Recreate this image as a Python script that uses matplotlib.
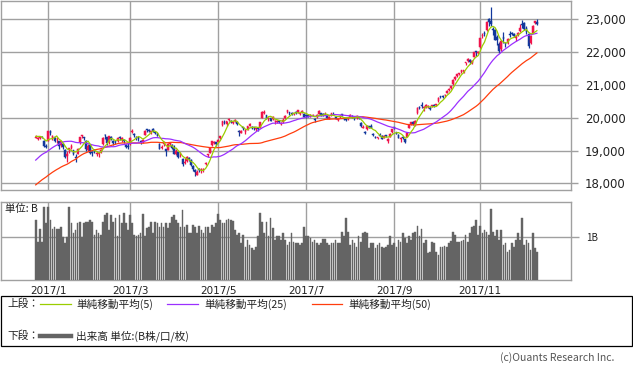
import numpy as np
import pandas as pd
import matplotlib
matplotlib.use("Agg")
import matplotlib.pyplot as plt
from matplotlib.patches import Rectangle
from matplotlib.lines import Line2D

# ---------------- data ----------------
month_labels = ["2016/12", "2017/1", "2017/2", "2017/3", "2017/4", "2017/5", "2017/6",
                "2017/7", "2017/8", "2017/9", "2017/10", "2017/11", "2017/12"]
month_days = [6, 19, 20, 22, 20, 20, 22, 20, 22, 20, 21, 20, 8]
tick_labels = ["2017/1", "2017/3", "2017/5", "2017/7", "2017/9", "2017/11"]

# closes before the first drawn day (used only for the moving averages)
prior_close = [16840, 16774, 16856, 16900, 16963, 16998, 17235, 17184, 17234, 17365, 17391, 17336, 17446, 17425,
               17442, 17134, 16905, 17177, 17171, 16251, 17344, 17374, 17672, 17668, 17862, 17862, 17967, 18106,
               18162, 18333, 18381, 18356, 18307, 18308,
               18513, 18426, 18274, 18360, 18496, 18765, 18996, 19155, 19250, 19253, 19273, 19401, 19391, 19494, 19444]

opens = [
    19390, 19360, 19370, 19420, 19300, 19150,
    19298, 19602, 19393, 19414, 19342, 19300, 19170, 19200, 19030, 18830, 19010, 19080, 19010, 18790, 18900, 19250, 19430, 19400, 19280,
    19020, 19170, 18950, 19010, 18880, 18890, 19000, 19200, 19480, 19400, 19250, 19420, 19280, 19260, 19290, 19410, 19320, 19310, 19180, 19140,
    19200, 19560, 19470, 19400, 19400, 19300, 19260, 19480, 19650, 19610, 19560, 19670, 19580, 19520, 19200, 19070, 19200, 19040, 19030, 19200, 19170, 19070,
    18900, 18950, 18850, 18740, 18630, 18690, 18760, 18720, 18530, 18410, 18250, 18430, 18380, 18420, 18590, 18860, 18920, 19180, 19240, 19260,
    19270, 19380, 19770, 19880, 19800, 19920, 19890, 19830, 19900, 19880, 19600, 19540, 19690, 19560, 19640, 19760, 19730, 19690, 19660, 19660,
    19700, 20000, 20140, 20070, 19950, 19980, 19960, 19890, 19880, 19900, 19820, 19860, 19990, 20190, 20150, 20160, 20120, 20170, 20170, 20120, 20180, 20110,
    20070, 20070, 20030, 20070, 19960, 20020, 20120, 20140, 20110, 20100, 20060, 19970, 20070, 20130, 20030, 19920, 20020, 20100, 20000, 19980,
    19960, 20030, 20050, 20000, 19990, 20000, 19850, 19700, 19550, 19650, 19740, 19760, 19480, 19410, 19380, 19480, 19450, 19380, 19450, 19290, 19420, 19570,
    19700, 19560, 19480, 19350, 19410, 19350, 19420, 19700, 19810, 19870, 19810, 20150, 20320, 20400, 20290, 20320, 20330, 20290, 20350, 20400,
    20380, 20500, 20640, 20660, 20680, 20770, 20850, 20900, 21030, 21180, 21260, 21350, 21400, 21400, 21660, 21720, 21770, 21680, 21850, 22020, 21980,
    22160, 22480, 22600, 22670, 23020, 22950, 22700, 22690, 22470, 22260, 22100, 22470, 22270, 22290, 22560, 22580, 22550, 22440, 22530, 22640,
    22860, 22880, 22750, 22570, 22280, 22600, 22890, 22920]

highs = [
    19480, 19420, 19440, 19450, 19310, 19190,
    19594, 19615, 19472, 19414, 19416, 19300, 19300, 19220, 19040, 19000, 19080, 19190, 19030, 18880, 19070, 19418, 19480, 19420, 19310,
    19190, 19190, 19000, 19060, 19000, 18960, 19050, 19400, 19500, 19420, 19450, 19450, 19320, 19290, 19400, 19440, 19410, 19340, 19200, 19220,
    19400, 19668, 19520, 19440, 19420, 19320, 19360, 19630, 19670, 19660, 19610, 19700, 19610, 19550, 19220, 19160, 19300, 19060, 19220, 19260, 19200, 19160,
    19040, 18960, 18950, 18780, 18760, 18840, 18800, 18730, 18560, 18450, 18400, 18470, 18470, 18460, 18650, 18880, 19090, 19300, 19290, 19270,
    19340, 19450, 19900, 19920, 19910, 19990, 19920, 19900, 19960, 19890, 19640, 19640, 19710, 19660, 19760, 19830, 19760, 19720, 19700, 19700,
    19880, 20200, 20240, 20080, 20020, 20000, 20050, 19940, 19930, 19930, 19870, 20000, 20090, 20240, 20190, 20190, 20160, 20200, 20240, 20160, 20240, 20140,
    20090, 20100, 20100, 20120, 19990, 20100, 20230, 20160, 20140, 20170, 20090, 20040, 20150, 20170, 20050, 19980, 20090, 20120, 20020, 20000,
    20000, 20100, 20070, 20020, 20070, 20060, 19870, 19780, 19600, 19770, 19760, 19800, 19520, 19450, 19420, 19520, 19460, 19470, 19480, 19370, 19520, 19660,
    19730, 19580, 19500, 19400, 19440, 19360, 19560, 19790, 19880, 19900, 19920, 20320, 20350, 20480, 20370, 20420, 20390, 20350, 20390, 20420,
    20430, 20620, 20660, 20680, 20710, 20840, 20900, 20960, 21170, 21260, 21340, 21380, 21460, 21460, 21700, 21810, 21790, 21760, 22020, 22030, 22030,
    22440, 22580, 22640, 22940, 23050, 23382, 22780, 22700, 22520, 22300, 22370, 22610, 22310, 22440, 22660, 22620, 22600, 22500, 22620, 22860,
    22994, 22910, 22790, 22590, 22520, 22830, 22950, 23000]

lows = [
    19370, 19330, 19350, 19370, 19110, 19090,
    19277, 19473, 19333, 19255, 19231, 19040, 19120, 19050, 18780, 18650, 18930, 19040, 18860, 18650, 18890, 19200, 19390, 19330, 18980,
    18990, 18890, 18830, 18940, 18830, 18800, 18940, 19160, 19360, 19170, 19190, 19310, 19180, 19200, 19270, 19330, 19270, 19230, 19090, 19060,
    19180, 19530, 19420, 19320, 19290, 19210, 19220, 19470, 19580, 19560, 19510, 19560, 19500, 19430, 19040, 19040, 19150, 18830, 19020, 19130, 19040, 18900,
    18870, 18780, 18800, 18520, 18580, 18650, 18690, 18520, 18390, 18220, 18250, 18340, 18320, 18360, 18560, 18790, 18910, 19150, 19190, 19140,
    19240, 19360, 19740, 19820, 19760, 19900, 19830, 19800, 19880, 19790, 19450, 19520, 19630, 19500, 19620, 19740, 19660, 19640, 19590, 19600,
    19690, 19990, 20120, 19950, 19900, 19890, 19920, 19820, 19850, 19840, 19780, 19840, 19970, 20160, 20090, 20080, 20090, 20120, 20150, 20080, 20160, 20030,
    19990, 20010, 20010, 20040, 19880, 20000, 20110, 20050, 20060, 20070, 19980, 19950, 20060, 20080, 19960, 19890, 20000, 20040, 19940, 19910,
    19930, 20010, 19990, 19940, 19970, 19960, 19720, 19680, 19510, 19640, 19680, 19690, 19440, 19370, 19350, 19430, 19340, 19370, 19420, 19230, 19410, 19550,
    19650, 19490, 19370, 19260, 19360, 19240, 19400, 19680, 19790, 19780, 19760, 20120, 20270, 20310, 20220, 20300, 20300, 20240, 20320, 20320,
    20360, 20490, 20590, 20600, 20630, 20750, 20820, 20880, 21010, 21150, 21240, 21290, 21360, 21360, 21620, 21700, 21650, 21650, 21840, 21890, 21950,
    22140, 22420, 22480, 22660, 22790, 22810, 22520, 22360, 22210, 21970, 22050, 22290, 22170, 22260, 22470, 22520, 22460, 22350, 22500, 22610,
    22750, 22690, 22570, 22119, 22260, 22590, 22850, 22820]

closes = [
    19427, 19396, 19403, 19401, 19145, 19114,
    19594, 19520, 19454, 19301, 19364, 19134, 19287, 19095, 18813, 18894, 19072, 19137, 18891, 18787, 19057, 19402, 19467, 19368, 19041,
    19148, 18914, 18918, 18976, 18910, 18907, 19007, 19378, 19459, 19238, 19437, 19347, 19234, 19251, 19381, 19379, 19371, 19283, 19107, 19118,
    19393, 19564, 19469, 19379, 19344, 19254, 19318, 19604, 19633, 19609, 19577, 19590, 19521, 19455, 19041, 19085, 19262, 18985, 19202, 19217, 19063, 18909,
    18983, 18810, 18861, 18597, 18664, 18797, 18747, 18552, 18426, 18335, 18355, 18418, 18432, 18430, 18620, 18875, 19079, 19289, 19251, 19196,
    19310, 19445, 19895, 19843, 19900, 19961, 19883, 19869, 19919, 19814, 19553, 19590, 19678, 19613, 19742, 19813, 19686, 19682, 19677, 19650,
    19860, 20177, 20170, 19979, 19984, 19909, 20013, 19908, 19898, 19883, 19831, 19943, 20067, 20230, 20138, 20110, 20132, 20153, 20225, 20130, 20220, 20033,
    20055, 20032, 20081, 20081, 19929, 20080, 20195, 20098, 20099, 20118, 20000, 20020, 20144, 20099, 19975, 19955, 20050, 20079, 19959, 19925,
    19985, 20080, 20029, 19952, 20055, 19996, 19738, 19729, 19537, 19753, 19729, 19702, 19470, 19393, 19383, 19434, 19353, 19452, 19449, 19362, 19506, 19646,
    19691, 19508, 19385, 19357, 19396, 19274, 19545, 19776, 19865, 19807, 19909, 20299, 20310, 20347, 20296, 20397, 20330, 20267, 20363, 20356,
    20400, 20614, 20626, 20628, 20690, 20823, 20881, 20954, 21155, 21255, 21336, 21363, 21448, 21457, 21696, 21805, 21707, 21739, 22008, 22011, 22011,
    22420, 22539, 22548, 22937, 22913, 22868, 22681, 22380, 22380, 22028, 22351, 22396, 22261, 22416, 22523, 22550, 22495, 22486, 22597, 22724,
    22819, 22707, 22622, 22177, 22498, 22811, 22938, 22866]

# volume in units of B (billion shares)
volume_b = [
    1.41, 0.90, 1.20, 0.90, 1.72, 1.33, 1.72, 1.41, 1.20, 1.25, 1.20, 1.20, 1.25, 1.00, 0.86, 1.00, 1.72, 1.33, 1.10, 1.17,
    1.33, 1.37, 1.00, 1.33, 1.37, 1.37, 1.41, 1.37, 1.05, 1.17, 1.10, 1.05, 1.37, 1.52, 1.56, 1.17, 1.52, 1.37, 1.45, 1.02,
    1.52, 1.33, 1.56, 1.33, 1.17, 1.52, 1.33, 1.05, 1.02, 1.05, 1.09, 1.55, 1.02, 1.21, 1.25, 1.37, 1.09, 1.37, 1.33, 1.25,
    1.33, 1.25, 1.33, 1.21, 1.33, 1.48, 1.52, 1.41, 1.33, 1.25, 1.64, 1.25, 1.29, 1.09, 1.09, 1.29, 1.25, 1.09, 1.27, 1.17,
    1.09, 1.25, 1.25, 1.09, 1.29, 1.25, 1.33, 1.55, 1.41, 1.33, 1.33, 1.41, 1.42, 1.41, 1.39, 1.17, 1.05, 1.09, 0.86, 1.05,
    0.78, 0.94, 0.82, 0.74, 0.70, 0.78, 1.02, 1.58, 1.37, 1.09, 1.37, 1.02, 1.45, 1.21, 0.94, 1.02, 1.02, 0.94, 1.09, 0.94,
    0.82, 0.90, 1.09, 0.90, 0.86, 0.86, 0.82, 0.86, 1.25, 1.03, 1.02, 0.98, 0.90, 0.94, 0.86, 0.82, 0.86, 0.95, 0.95, 0.86,
    0.82, 0.86, 0.86, 0.94, 0.86, 0.86, 1.13, 1.02, 1.45, 1.13, 0.82, 0.94, 0.86, 0.78, 1.02, 0.90, 1.11, 1.13, 1.09, 0.74,
    0.86, 0.86, 0.74, 0.82, 0.86, 0.78, 0.74, 0.77, 0.82, 1.02, 0.82, 0.86, 0.78, 0.94, 0.88, 1.09, 0.98, 0.86, 1.02, 0.94,
    1.09, 1.13, 1.27, 1.02, 1.19, 0.86, 0.94, 0.63, 0.66, 0.90, 0.86, 0.66, 0.59, 0.77, 0.78, 0.80, 0.78, 0.86, 0.92, 1.13,
    1.05, 0.90, 0.90, 0.92, 0.94, 1.05, 0.90, 1.09, 1.25, 1.27, 1.41, 1.05, 1.27, 1.09, 1.17, 1.13, 1.05, 1.66, 1.13, 1.02,
    1.17, 0.94, 1.17, 0.82, 0.86, 0.66, 0.70, 0.86, 0.78, 0.94, 1.09, 0.94, 1.45, 0.82, 0.94, 0.86, 0.70, 1.09, 0.74, 0.66]

n = len(closes)
assert len(opens) == n and len(highs) == n and len(lows) == n, (len(opens), len(highs), len(lows), n)
assert len(volume_b) == n, len(volume_b)
assert sum(month_days) == n

# ---------------- styles ----------------
RED = "#f0144b"
BLUE = "#12389c"
C_MA5 = "#9acd00"
C_MA25 = "#9b30ff"
C_MA50 = "#ff3d0d"
GRID = "#a0a0a0"
VOL = "#646464"
JP = ["Noto Sans CJK JP", "DejaVu Sans"]

W, H = 633, 372
fig = plt.figure(figsize=(W / 100, H / 100), dpi=100)
fig.patch.set_facecolor("white")


def box(x0, y0, x1, y1):
    return [x0 / W, 1 - y1 / H, (x1 - x0) / W, (y1 - y0) / H]


ax = fig.add_axes(box(0.5, 0.5, 571, 190))
axv = fig.add_axes(box(0.5, 201.7, 571, 280))

x = np.arange(n)
O = np.array(opens, float)
Hh = np.array(highs, float)
L = np.array(lows, float)
C = np.array(closes, float)

allc = pd.Series(prior_close + closes, dtype=float)
k = len(prior_close)
ma5 = allc.rolling(5).mean().iloc[k:].to_numpy()
ma25 = allc.rolling(25).mean().iloc[k:].to_numpy()
ma50 = allc.rolling(50).mean().iloc[k:].to_numpy()

# month start positions for the grid / labels
starts = np.concatenate([[0], np.cumsum(month_days)[:-1]])
pos = {lab: s for lab, s in zip(month_labels, starts)}
tick_pos = [pos[t] for t in tick_labels]

xlim = (6 - 47.8 / 2.097, 6 + (571 - 48.3) / 2.097)

# ---------------- price panel ----------------
colors = np.where(C >= O, RED, BLUE)
ax.vlines(x, L, Hh, colors=colors, linewidth=0.9, zorder=3)
body = np.maximum(np.abs(C - O), 25)
ax.bar(x, body, bottom=np.minimum(O, C), width=0.8, color=colors,
       edgecolor=colors, linewidth=0.35, zorder=3)
ax.plot(x, ma50, color=C_MA50, lw=0.9, zorder=4)
ax.plot(x, ma25, color=C_MA25, lw=0.9, zorder=4)
ax.plot(x, ma5, color=C_MA5, lw=0.9, zorder=5)

ax.set_xlim(*xlim)
ax.set_ylim(17796, 23578)
yt = [18000, 19000, 20000, 21000, 22000, 23000]
ax.set_yticks(yt)
ax.set_yticklabels([f"{v:,}" for v in yt])
ax.yaxis.tick_right()
ax.set_xticks(tick_pos)
ax.tick_params(axis="x", length=0, labelbottom=False)
ax.tick_params(axis="y", length=5, width=1, color=GRID, pad=5, labelsize=8.5, labelcolor="#222222")
ax.grid(True, color=GRID, lw=1.0)
ax.set_axisbelow(True)
for s in ax.spines.values():
    s.set_color(GRID)
    s.set_linewidth(1.0)

# ---------------- volume panel ----------------
axv.bar(x, volume_b, width=0.8, color=VOL, edgecolor=VOL, linewidth=0.3, zorder=3)
axv.set_xlim(*xlim)
axv.set_ylim(0, 1.834)
axv.set_yticks([1.0])
axv.set_yticklabels(["1B"], family=JP)
axv.yaxis.tick_right()
axv.set_xticks(tick_pos)
axv.set_xticklabels(tick_labels)
axv.tick_params(axis="x", length=0, pad=4, labelsize=7.5, labelcolor="#222222")
axv.tick_params(axis="y", length=6, width=1, color=GRID, pad=5, labelsize=7, labelcolor="#222222")
axv.grid(True, color=GRID, lw=1.0)
axv.set_axisbelow(True)
for s in axv.spines.values():
    s.set_color(GRID)
    s.set_linewidth(1.0)
axv.text(5 / 571, 1 - (209 - 201.7) / 78.3, "単位: B", transform=axv.transAxes,
         ha="left", va="center", fontsize=7.5, family=JP, color="#222222", zorder=6)

# ---------------- legend box ----------------
def fx(px):
    return px / W


def fy(py):
    return 1 - py / H


fig.patches.append(Rectangle((fx(0.5), fy(346)), fx(631.5) - fx(0.5), fy(295.7) - fy(346),
                             transform=fig.transFigure, fill=False, edgecolor="black", lw=0.9))

tkw = dict(fontsize=7.7, family=JP, color="#222222", va="center", ha="left")
fig.text(fx(7), fy(304), "上段：", **tkw)
fig.text(fx(7), fy(336), "下段：", **tkw)
for (x0, x1, tx, col, lab) in [(40, 71, 76, C_MA5, "単純移動平均(5)"),
                                (167, 198, 204, C_MA25, "単純移動平均(25)"),
                                (312, 342, 348, C_MA50, "単純移動平均(50)")]:
    fig.lines.append(Line2D([fx(x0), fx(x1)], [fy(304), fy(304)], transform=fig.transFigure,
                            color=col, lw=0.9))
    fig.text(fx(tx), fy(304), lab, **tkw)
fig.lines.append(Line2D([fx(40), fx(71)], [fy(336), fy(336)], transform=fig.transFigure,
                        color=VOL, lw=3.2))
fig.text(fx(76), fy(336), "出来高 単位:(B株/口/枚)", **tkw)
fig.text(fx(614), fy(358), "(c)Ouants Research Inc.", fontsize=7.5, color="#555555",
         family=JP, ha="right", va="center")

fig.savefig("out.png", dpi=100)
